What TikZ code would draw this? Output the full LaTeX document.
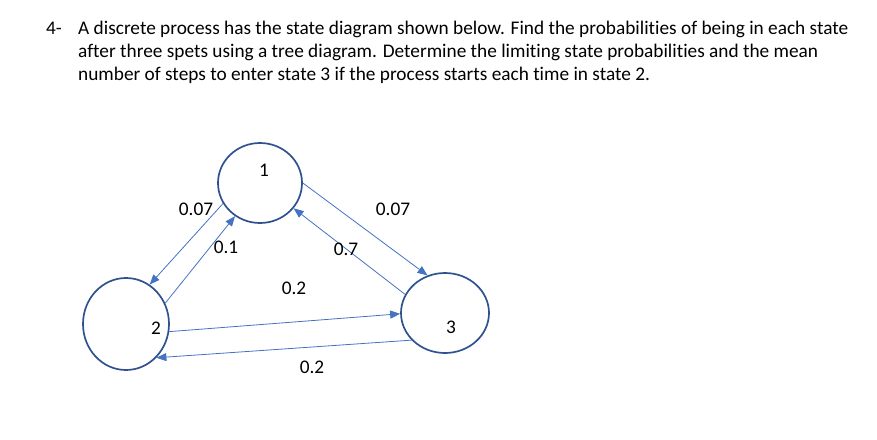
\documentclass[tikz,border=0pt]{standalone}
\usepackage{fontspec}
\setmainfont{Carlito}[Ligatures={NoCommon}]
\usetikzlibrary{shapes.geometric,arrows.meta}
\definecolor{stateblue}{HTML}{2F528F}
\definecolor{lineblue}{HTML}{4472C4}

\begin{document}
\begin{tikzpicture}[x=1pt, y=-1pt,
    state/.style={ellipse, draw=stateblue, line width=1.7pt, inner sep=0pt},
    trans/.style={draw=lineblue, line width=0.8pt, -{Triangle[length=10pt,width=8pt]}},
    lbl/.style={font=\fontsize{19.3}{23}\selectfont, inner sep=0pt}]
        \useasboundingbox (0,0) rectangle (877,439);

        % Question
        \node (qnum) [lbl, anchor=base west] at (46, 34) {4-};
        \node (qline1) [lbl, anchor=base west] at (78, 34) {A discrete process has the state diagram shown below. Find the probabilities of being in each state};
        \node (qline2) [lbl, anchor=base west] at (78, 57.3) {after three spets using a tree diagram. Determine the limiting state probabilities and the mean};
        \node (qline3) [lbl, anchor=base west] at (78, 80.7) {number of steps to enter state 3 if the process starts each time in state 2.};

        % Nodes
        \node (s1) [state, minimum width=84pt, minimum height=80pt] at (260, 183) {};
        \node (s2) [state, minimum width=86pt, minimum height=92pt] at (126, 324) {};
        \node (s3) [state, minimum width=88pt, minimum height=80pt] at (445, 313) {};
        \node (n1) [lbl] at (264, 170) {1};
        \node (n2) [lbl] at (156, 328) {2};
        \node (n3) [lbl] at (451, 327) {3};

        % Edges
        \draw[trans] (s1.209) -- (s2.59);
        \draw[trans] (s2.28) -- (s1.233);
        \draw[trans] (s1.0) -- (s3.115);
        \draw[trans] (s3.155) -- (s1.323);
        \draw[trans] (s2.350) -- (s3.181);
        \draw[trans] (s3.219) -- (s2.312);

        % Probabilities
        \node (p12) [lbl] at (196, 209) {0.07};
        \node (p21) [lbl] at (226, 247) {0.1};
        \node (p13) [lbl] at (393, 209) {0.07};
        \node (p31) [lbl] at (346, 249) {0.7};
        \node (p23) [lbl] at (294, 288) {0.2};
        \node (p32) [lbl] at (312, 367) {0.2};
\end{tikzpicture}
\end{document}
